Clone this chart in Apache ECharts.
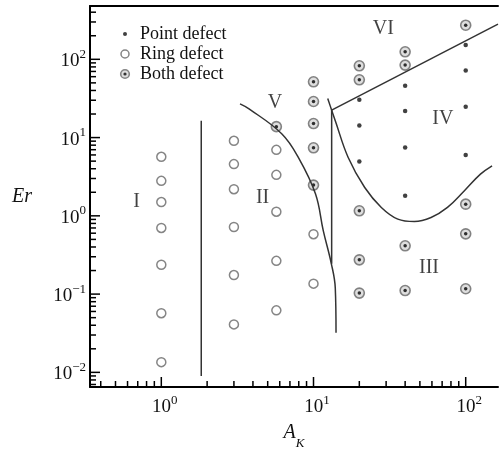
<!DOCTYPE html>
<html>
<head>
<meta charset="utf-8">
<script src="https://cdn.jsdelivr.net/npm/echarts@6/dist/echarts.min.js"></script>
<style>
  html, body { margin: 0; padding: 0; background: #fff; }
  #chart { width: 501px; height: 455px; }
</style>
</head>
<body>
<div id="chart"></div>
<script>
// axis ranges (log)
const X_MIN = 0.34, X_MAX = 163;
const Y_MIN = 0.0065, Y_MAX = 480;

// data points [A_K, Er]
const pointDefect = [[20, 30.4], [20, 14.3], [20, 4.94], [40, 45.8], [40, 21.8], [40, 7.46], [40, 1.80],
  [100, 152], [100, 72], [100, 24.7], [100, 5.97]];
const ringDefect = [[1, 5.68], [1, 2.8], [1, 1.5], [1, 0.70], [1, 0.237], [1, 0.057], [1, 0.0135],
  [3, 9.1], [3, 4.58], [3, 2.19], [3, 0.72], [3, 0.175], [3, 0.041],
  [5.7, 6.97], [5.7, 3.34], [5.7, 1.13], [5.7, 0.266], [5.7, 0.062],
  [10, 0.583], [10, 0.136]];
const bothDefect = [[5.7, 13.8], [10, 51.6], [10, 28.9], [10, 15.1], [10, 7.4], [10, 2.47],
  [20, 82.6], [20, 54.7], [20, 1.16], [20, 0.274], [20, 0.103],
  [40, 124.7], [40, 84.3], [40, 0.414], [40, 0.111],
  [100, 273], [100, 1.41], [100, 0.589], [100, 0.117]];

// region boundaries
const lineI_II = [[1.83, 16.4], [1.83, 0.009]];
const curveV_II = [[3.29, 27], [3.77, 23.3], [6.18, 11.2], [7.98, 5.51], [10.3, 1.91], [11.6, 0.643],
  [13.1, 0.244], [13.9, 0.12], [14.06, 0.032]];
const lineV_III = [[13.16, 22.4], [13.16, 0.244]];
const lineVI = [[13.16, 22.4], [163, 282]];
const curveIV = [[12.4, 31.6], [13.16, 22.4], [13.9, 16.4], [16.9, 5.56], [21.7, 2.30], [27.9, 1.28],
  [35.8, 0.908], [46.0, 0.845], [59.2, 0.951], [75.9, 1.28], [97.7, 2.08], [125, 3.41], [149, 4.36]];

// region labels
const regionNames = ['I', 'II', 'III', 'IV', 'V', 'VI'];
const regionPos = [[0.687, 1.51], [4.63, 1.70], [57.4, 0.218], [70.8, 17.5], [5.59, 28.0], [28.8, 243]];

const legendNames = ['Point defect', 'Ring defect', 'Both defect'];

// ticks: decades with 2..9 minor ticks
function makeTicks(lo, hi, decades) {
  const out = [];
  decades.forEach(d => {
    for (let m = 1; m <= 9; m++) {
      const v = +(m * d).toPrecision(6);
      if (v >= lo && v <= hi) out.push([v, m === 1 ? 10 : 6]);
    }
  });
  return out;
}
const xTicks = makeTicks(X_MIN, X_MAX, [0.1, 1, 10, 100]);
const yTicks = makeTicks(Y_MIN, Y_MAX, [0.001, 0.01, 0.1, 1, 10, 100]);

const SERIF = '"Liberation Serif", "DejaVu Serif", serif';
const LINE = { color: '#333', width: 1.5 };

function svgIcon(body) {
  return 'image://data:image/svg+xml;charset=utf-8,' + encodeURIComponent(
    "<svg xmlns='http://www.w3.org/2000/svg' width='12' height='12'>" + body + '</svg>');
}

function powLabel(v) {
  const l = Math.log10(v), e = Math.round(l);
  if (Math.abs(l - e) > 1e-6) return '';
  return '{p|}{b|10}{s|' + (e < 0 ? '\u2212' + (-e) : e) + '}';
}
function richFor(pad) {
  return {
    p: { width: pad, lineHeight: 23 },
    b: { fontFamily: SERIF, fontSize: 19, lineHeight: 19, verticalAlign: 'bottom', color: '#111' },
    s: { fontFamily: SERIF, fontSize: 13, lineHeight: 13, verticalAlign: 'top', color: '#111' }
  };
}

const chart = echarts.init(document.getElementById('chart'));
chart.setOption({
  animation: false,
  backgroundColor: '#fff',
  grid: { left: 90, top: 6, right: 0, bottom: 68, containLabel: false },
  legend: {
    orient: 'vertical',
    left: 119,
    top: 24,
    padding: 0,
    itemGap: 0,
    itemWidth: 12,
    itemHeight: 12,
    selectedMode: false,
    textStyle: { fontFamily: SERIF, fontSize: 18, color: '#111', lineHeight: 20, padding: [0, 0, 0, 4] },
    data: [
      { name: legendNames[0], icon: svgIcon("<circle cx='6' cy='6' r='2' fill='#111'/>") },
      { name: legendNames[1], icon: svgIcon("<circle cx='6' cy='6' r='4' fill='#fff' stroke='#666' stroke-width='1.5'/>") },
      { name: legendNames[2], icon: svgIcon("<circle cx='6' cy='6' r='4.3' fill='#d6d6d6' stroke='#666' stroke-width='1.6'/><circle cx='6' cy='6' r='1.6' fill='#000'/>") }
    ]
  },
  xAxis: [{
    type: 'log', logBase: 10, min: X_MIN, max: X_MAX, position: 'bottom',
    name: '{a|A}{k|K}', nameLocation: 'middle', nameGap: 36,
    nameTextStyle: {
      rich: {
        a: { fontFamily: SERIF, fontStyle: 'italic', fontSize: 20, lineHeight: 20, verticalAlign: 'top', color: '#111' },
        k: { fontFamily: SERIF, fontStyle: 'italic', fontSize: 13, lineHeight: 27, verticalAlign: 'bottom', color: '#111' }
      }
    },
    axisLine: { onZero: false, lineStyle: { color: '#000', width: 2 } },
    axisTick: { show: false },
    splitLine: { show: false },
    axisLabel: { margin: 7, formatter: powLabel, rich: richFor(7), showMinLabel: true, showMaxLabel: true }
  }, {
    type: 'log', logBase: 10, min: X_MIN, max: X_MAX, position: 'top',
    axisLine: { onZero: false, lineStyle: { color: '#000', width: 2 } },
    axisTick: { show: false }, axisLabel: { show: false }, splitLine: { show: false }
  }],
  yAxis: [{
    type: 'log', logBase: 10, min: Y_MIN, max: Y_MAX, position: 'left',
    name: 'Er', nameLocation: 'middle', nameGap: 58, nameRotate: 0,
    nameTextStyle: { fontFamily: SERIF, fontStyle: 'italic', fontSize: 20, color: '#111' },
    axisLine: { onZero: false, lineStyle: { color: '#000', width: 2 } },
    axisTick: { show: false },
    splitLine: { show: false },
    axisLabel: { margin: 4, formatter: powLabel, rich: richFor(0) }
  }],
  series: [
    {
      type: 'custom', silent: true, xAxisIndex: 0, yAxisIndex: 0,
      data: xTicks.map(t => [t[0], Y_MIN, t[1]]),
      renderItem: (params, api) => {
        const p = api.coord([api.value(0), api.value(1)]);
        return { type: 'line', shape: { x1: p[0], y1: p[1], x2: p[0], y2: p[1] - api.value(2) },
          style: { stroke: '#000', lineWidth: 1.5 } };
      }
    },
    {
      type: 'custom', silent: true, xAxisIndex: 0, yAxisIndex: 0,
      data: yTicks.map(t => [X_MIN, t[0], t[1]]),
      renderItem: (params, api) => {
        const p = api.coord([api.value(0), api.value(1)]);
        return { type: 'line', shape: { x1: p[0], y1: p[1], x2: p[0] + api.value(2), y2: p[1] },
          style: { stroke: '#000', lineWidth: 1.5 } };
      }
    },
    { type: 'line', data: lineI_II, showSymbol: false, silent: true, lineStyle: LINE },
    { type: 'line', data: curveV_II, showSymbol: false, silent: true, smooth: 0.4, lineStyle: LINE },
    { type: 'line', data: lineV_III, showSymbol: false, silent: true, lineStyle: LINE },
    { type: 'line', data: lineVI, showSymbol: false, silent: true, lineStyle: LINE },
    { type: 'line', data: curveIV, showSymbol: false, silent: true, smooth: 0.4, lineStyle: LINE },
    {
      name: legendNames[0], type: 'scatter', data: pointDefect, symbol: 'circle', symbolSize: 4.5,
      itemStyle: { color: '#111' }
    },
    {
      name: legendNames[1], type: 'scatter', data: ringDefect, symbol: 'circle', symbolSize: 9,
      itemStyle: { color: '#fff', borderColor: '#666', borderWidth: 1.5 }
    },
    {
      name: legendNames[2], type: 'scatter', data: bothDefect, symbol: 'circle', symbolSize: 10,
      itemStyle: { color: '#d6d6d6', borderColor: '#666', borderWidth: 1.6 }
    },
    {
      name: legendNames[2], type: 'scatter', data: bothDefect, symbol: 'circle', symbolSize: 3.5,
      itemStyle: { color: '#000' }
    },
    {
      type: 'scatter', silent: true, symbolSize: 1,
      itemStyle: { color: 'transparent' },
      data: regionNames.map((n, i) => ({ name: n, value: regionPos[i] })),
      label: {
        show: true, position: 'inside', formatter: '{b}',
        fontFamily: SERIF, fontSize: 20, color: '#111'
      }
    }
  ]
});
</script>
</body>
</html>
